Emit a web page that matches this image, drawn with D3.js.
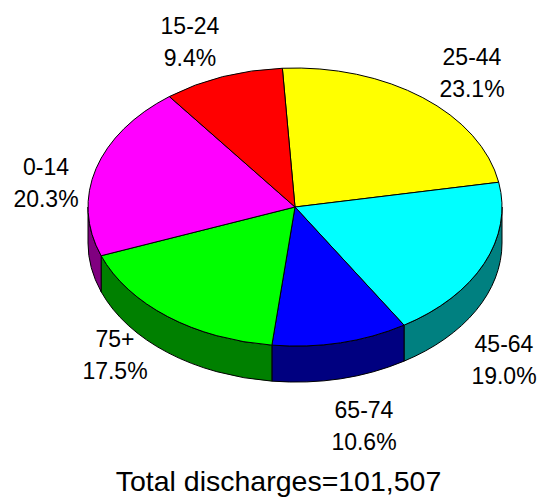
<!DOCTYPE html>
<html>
<head>
<meta charset="utf-8">
<script src="https://cdn.jsdelivr.net/npm/d3@7"></script>
<style>
  html, body { margin: 0; padding: 0; background: #ffffff; }
  svg { display: block; }
  text { font-family: "Liberation Sans", Arial, sans-serif; fill: #000; }
</style>
</head>
<body>
<svg id="chart" width="539" height="497"></svg>
<script>
// ---- data ----
const categories = ["25-44", "45-64", "65-74", "75+", "0-14", "15-24"];
const percents   = [23.1, 19.0, 10.6, 17.5, 20.3, 9.4];
const topColors  = ["#ffff00", "#00ffff", "#0000ff", "#00ff00", "#ff00ff", "#ff0000"];
const sideColors = ["#808000", "#008080", "#000080", "#008000", "#800080", "#800000"];
const percentLabels = ["23.1%", "19.0%", "10.6%", "17.5%", "20.3%", "9.4%"];
const totalLabel = "Total discharges=101,507";

// ---- layout ----
const W = 539, H = 497;
const cx = 295, cy = 207, rx = 207, ry = 139, depth = 36;
const start = -3.5 * Math.PI / 180;
// label anchor (center x, first baseline) for each category
const labelAnchors = [[472, 65], [504, 352], [364, 418], [115, 347], [46, 175], [190, 34]];
const lineGap = 32;

const svg = d3.select("#chart");
svg.append("rect").attr("width", W).attr("height", H).attr("fill", "#ffffff");

const pie = d3.pie().sort(null).value(d => d)
  .startAngle(start).endAngle(start + 2 * Math.PI);
const arcs = pie(percents);

const pt = (t, dy) => [cx + rx * Math.sin(t), cy - ry * Math.cos(t) + dy];

// side walls (front half only)
const sides = svg.append("g");
arcs.forEach((a, i) => {
  const t1 = Math.max(a.startAngle, Math.PI / 2);
  const t2 = Math.min(a.endAngle, 3 * Math.PI / 2);
  if (t1 >= t2) return;
  const p1 = pt(t1, 0), p2 = pt(t2, 0), p2b = pt(t2, depth), p1b = pt(t1, depth);
  const d = `M${p1} A${rx},${ry} 0 0 1 ${p2} L${p2b} A${rx},${ry} 0 0 0 ${p1b} Z`;
  sides.append("path").attr("d", d)
    .attr("fill", sideColors[i]).attr("stroke", "#000").attr("stroke-width", 1)
    .attr("stroke-linejoin", "round");
});

// top face
const arcGen = d3.arc().innerRadius(0).outerRadius(rx);
svg.append("g")
  .attr("transform", `translate(${cx},${cy}) scale(1,${ry / rx})`)
  .selectAll("path").data(arcs).join("path")
  .attr("d", arcGen)
  .attr("fill", (d, i) => topColors[i])
  .attr("stroke", "#000").attr("stroke-width", 1)
  .attr("vector-effect", "non-scaling-stroke")
  .attr("stroke-linejoin", "round");

// labels
const lg = svg.append("g").attr("font-size", 23).attr("text-anchor", "middle");
categories.forEach((c, i) => {
  const [x, y] = labelAnchors[i];
  lg.append("text").attr("x", x).attr("y", y).text(c);
  lg.append("text").attr("x", x).attr("y", y + lineGap).text(percentLabels[i]);
});

svg.append("text")
  .attr("x", 278.5).attr("y", 491)
  .attr("text-anchor", "middle").attr("font-size", 28.5)
  .text(totalLabel);
</script>
</body>
</html>
